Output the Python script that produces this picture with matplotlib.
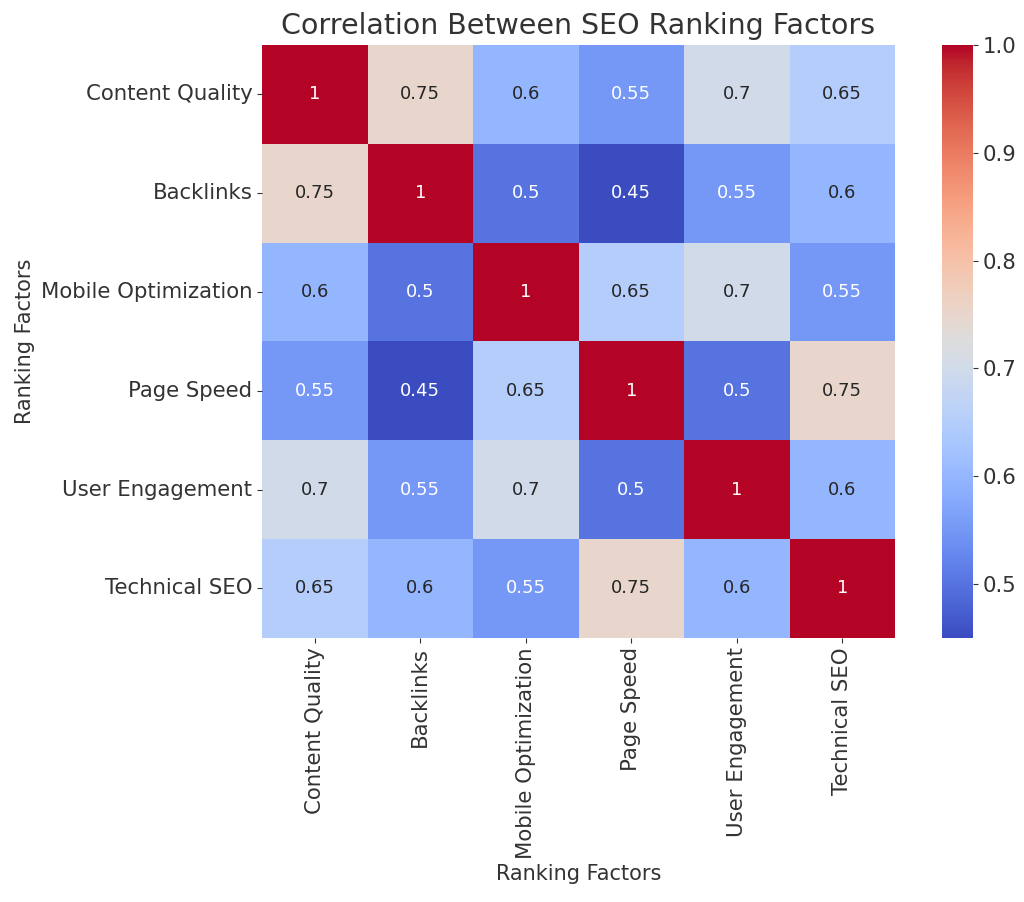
import matplotlib
matplotlib.use("Agg")
import matplotlib.pyplot as plt
import seaborn as sns
import pandas as pd

factors = ["Content Quality", "Backlinks", "Mobile Optimization",
           "Page Speed", "User Engagement", "Technical SEO"]

content_quality = [1.00, 0.75, 0.60, 0.55, 0.70, 0.65]
backlinks = [0.75, 1.00, 0.50, 0.45, 0.55, 0.60]
mobile_optimization = [0.60, 0.50, 1.00, 0.65, 0.70, 0.55]
page_speed = [0.55, 0.45, 0.65, 1.00, 0.50, 0.75]
user_engagement = [0.70, 0.55, 0.70, 0.50, 1.00, 0.60]
technical_seo = [0.65, 0.60, 0.55, 0.75, 0.60, 1.00]

corr = pd.DataFrame([content_quality, backlinks, mobile_optimization,
                     page_speed, user_engagement, technical_seo],
                    index=factors, columns=factors)

fig = plt.figure(figsize=(10.24, 9.02), dpi=100)
ax = fig.add_axes([0.256, 0.293, 0.618, 0.657])
cax = fig.add_axes([0.920, 0.293, 0.030, 0.657])

sns.heatmap(corr, annot=True, cmap="coolwarm", ax=ax, cbar_ax=cax,
            annot_kws={"size": 13})

ax.set_title("Correlation Between SEO Ranking Factors", fontsize=20.5,
             color="#333333", pad=8)
ax.set_xlabel("Ranking Factors", fontsize=15, color="#333333")
ax.set_ylabel("Ranking Factors", fontsize=15, color="#333333")
ax.tick_params(labelsize=15.3, colors="#333333")
plt.setp(ax.get_xticklabels(), rotation=90)
plt.setp(ax.get_yticklabels(), rotation=0)
cax.tick_params(labelsize=15.3, colors="#333333")

fig.savefig("out.png", dpi=100)
